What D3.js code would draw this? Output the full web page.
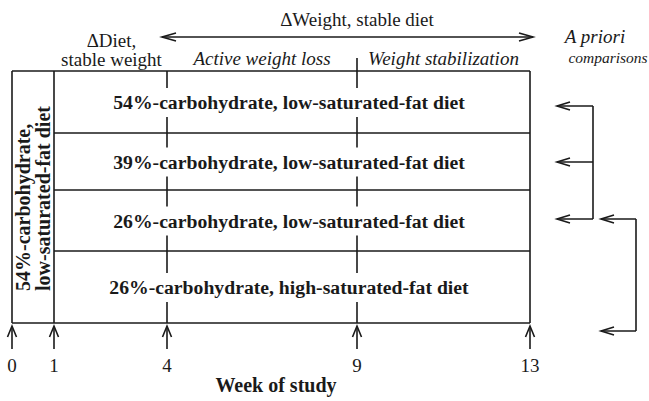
<!DOCTYPE html>
<html><head><meta charset="utf-8">
<script src="https://cdn.jsdelivr.net/npm/d3@7"></script>
<style>body{margin:0;background:#fff}</style>
</head><body>
<svg id="c" width="649" height="401"></svg>
<script>
// ---- data ----
const weeks = [0, 1, 4, 9, 13];
const dietRows = [
  "54%-carbohydrate, low-saturated-fat diet",
  "39%-carbohydrate, low-saturated-fat diet",
  "26%-carbohydrate, low-saturated-fat diet",
  "26%-carbohydrate, high-saturated-fat diet"
];
const baselineDiet = ["54%-carbohydrate,", "low-saturated-fat diet"];
const phaseLabels = ["Active weight loss", "Weight stabilization"];
const phaseWeeks = [[4, 9], [9, 13]];
const headerTop = "\u0394Weight, stable diet";
const headerLeft = ["\u0394Diet,", "stable weight"];
const headerLeftWeeks = [1, 4];
const comparisonTitle = ["A priori", "comparisons"];
const comparisons = [[0, 1, 2], [2, 3]];
const xTitle = "Week of study";

// ---- layout ----
const svg = d3.select("#c");
const ink = "#1a1a1a";
const serif = "'Liberation Serif','Times New Roman',serif";
const x = d3.scaleLinear().domain(weeks).range([12, 54, 167, 357, 530]);
const rowY = d3.scaleLinear().domain([0, 1, 2, 3, 4]).range([71, 133, 190, 251, 323]);
const compY = d3.scaleLinear().domain([0, 1, 2, 3]).range([106, 162, 219, 331]);
const bracketX = [[557, 593], [601, 636]];
const sw = 1.6;

function line(x1, y1, x2, y2) {
  svg.append("line").attr("x1", x1).attr("y1", y1).attr("x2", x2).attr("y2", y2)
    .attr("stroke", ink).attr("stroke-width", sw);
}
function head(tx, ty, dx, dy, len, half) {
  const px = -dy, py = dx;
  const bx = tx - dx * len, by = ty - dy * len;
  svg.append("path")
    .attr("d", `M${bx + px * half},${by + py * half}L${tx},${ty}L${bx - px * half},${by - py * half}`)
    .attr("fill", "none").attr("stroke", ink).attr("stroke-width", sw);
}
function text(t, tx, ty, opts = {}) {
  return svg.append("text").attr("x", tx).attr("y", ty).text(t)
    .attr("font-family", serif).attr("font-size", opts.size || 19)
    .attr("font-weight", opts.bold ? "bold" : "normal")
    .attr("font-style", opts.italic ? "italic" : "normal")
    .attr("text-anchor", opts.anchor || "middle").attr("fill", ink);
}

const x0 = x(weeks[0]), x1 = x(weeks[1]), xEnd = x(weeks[weeks.length - 1]);
const yTop = rowY(0), yBot = rowY(dietRows.length);

// outer box
line(x0, yTop, xEnd, yTop);
line(x0, yBot, xEnd, yBot);
line(x0, yTop, x0, yBot);
line(xEnd, yTop, xEnd, yBot);
line(x1, yTop, x1, yBot);
for (let i = 1; i < dietRows.length; i++) line(x1, rowY(i), xEnd, rowY(i));

// vertical phase lines (broken around row labels)
[4, 9].forEach(w => {
  const xv = x(w);
  const startY = w === 9 ? 58 : yTop;
  let prev = startY;
  dietRows.forEach((d, i) => {
    const c = (rowY(i) + rowY(i + 1)) / 2;
    line(xv, prev, xv, c - 14);
    prev = c + 15;
  });
  line(xv, prev, xv, yBot);
});

// row labels
dietRows.forEach((d, i) => {
  const c = (rowY(i) + rowY(i + 1)) / 2;
  text(d, (x1 + xEnd) / 2 - 3, c + 7, { bold: true, size: 19.7 });
});

// baseline diet vertical label
baselineDiet.forEach((t, i) => {
  svg.append("text").text(t)
    .attr("transform", `translate(${[23, 43][i]},291) rotate(-90)`)
    .attr("dominant-baseline", "central")
    .attr("font-family", serif).attr("font-size", 20).attr("font-weight", "bold")
    .attr("text-anchor", "start").attr("fill", ink);
});

// bottom arrows and ticks
weeks.forEach(w => {
  const xv = x(w);
  line(xv, 327, xv, 349);
  head(xv, 326, 0, -1, 11, 4.5);
  text(String(w), xv, 372, { size: 19 });
});
text(xTitle, 276, 392, { bold: true, size: 20 });

// top headers
text(headerTop, x(9), 26, { size: 19 });
const ay = 37, axL = x(4) - 5, axR = xEnd + 3;
line(axL, ay, axR, ay);
head(axL, ay, -1, 0, 14, 4);
head(axR, ay, 1, 0, 14, 4);
const hx = (x(headerLeftWeeks[0]) + x(headerLeftWeeks[1])) / 2 + 1;
text(headerLeft[0], hx, 47, { size: 19 });
text(headerLeft[1], hx, 66, { size: 19 });
phaseLabels.forEach((p, i) => {
  text(p, (x(phaseWeeks[i][0]) + x(phaseWeeks[i][1])) / 2, 65, { italic: true, size: 19 });
});
text(comparisonTitle[0], 595, 43, { italic: true, size: 19 });
text(comparisonTitle[1], 608, 63, { italic: true, size: 15.5 });

// comparison brackets
comparisons.forEach((grp, gi) => {
  const [tipX, barX] = bracketX[gi];
  const ys = grp.map(r => compY(r));
  line(barX, d3.min(ys), barX, d3.max(ys));
  ys.forEach(yy => {
    line(tipX, yy, barX, yy);
    head(tipX, yy, -1, 0, 13, 4);
  });
});
</script>
</body></html>
